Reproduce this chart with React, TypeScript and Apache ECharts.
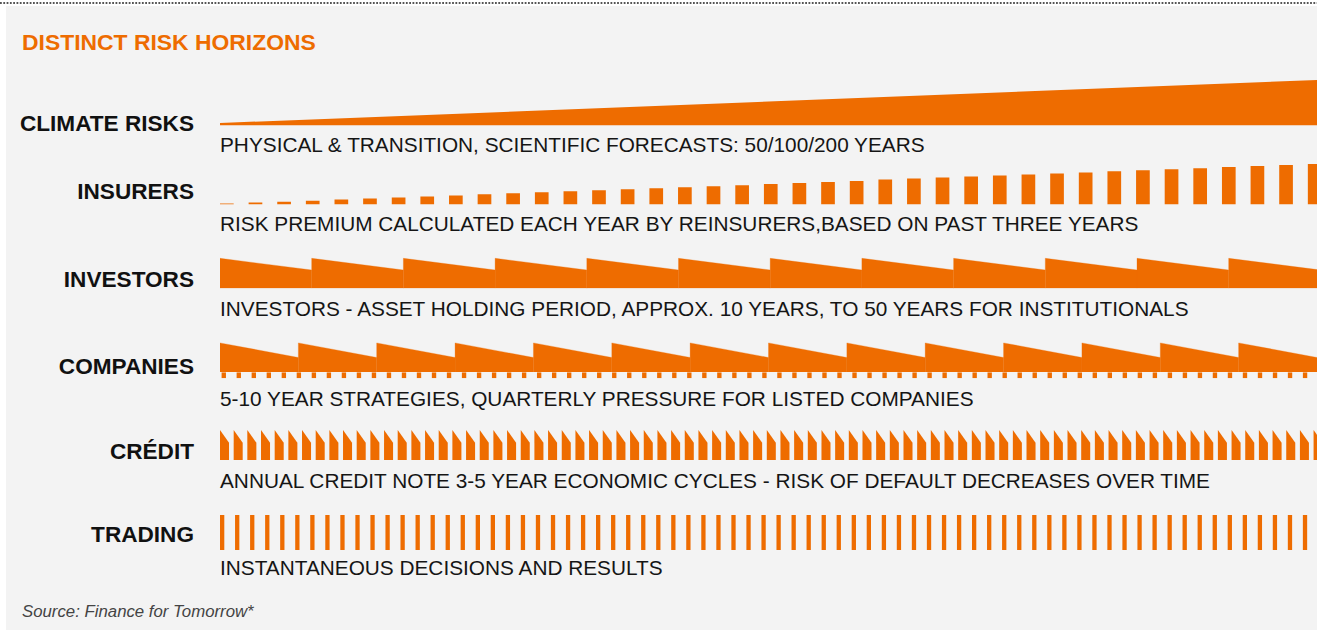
import React, { useEffect, useRef } from "react";
import * as echarts from "echarts";

const ORANGE = "#EE6C00";
const FONT = "'Liberation Sans', Arial, Helvetica, sans-serif";

const titleText = "DISTINCT RISK HORIZONS";
const sourceText = "Source: Finance for Tomorrow*";

const rowLabels = ["CLIMATE RISKS", "INSURERS", "INVESTORS", "COMPANIES", "CRÉDIT", "TRADING"];
const rowDescriptions = [
  "PHYSICAL & TRANSITION, SCIENTIFIC FORECASTS: 50/100/200 YEARS",
  "RISK PREMIUM CALCULATED EACH YEAR BY REINSURERS,BASED ON PAST THREE YEARS",
  "INVESTORS - ASSET HOLDING PERIOD, APPROX. 10 YEARS, TO 50 YEARS FOR INSTITUTIONALS",
  "5-10 YEAR STRATEGIES, QUARTERLY PRESSURE FOR LISTED COMPANIES",
  "ANNUAL CREDIT NOTE 3-5 YEAR ECONOMIC CYCLES - RISK OF DEFAULT DECREASES OVER TIME",
  "INSTANTANEOUS DECISIONS AND RESULTS",
];

// Climate risks: one continuous wedge (height at start, height at end of horizon)
const climateWedge = [2.5, 45.5];

// Insurers: yearly premium blocks
const insurersPremium = [
  1, 2, 2.8, 3.8, 5, 6, 7, 8, 9, 10.3, 11.3, 12.3, 13.3, 14.3, 15.2, 16.2, 17.3, 18.3, 19.3, 20.5,
  21.5, 22.5, 23.5, 25, 26, 27, 28, 29, 30, 31, 32, 33.3, 34.3, 35.3, 36.3, 37.6, 38.6, 39.6, 40.6,
];

// Investors: holding periods (peak at start, trough at end)
const investorsPeaks = [30, 30, 30, 30, 30, 30, 30, 30, 30, 30, 30, 30];
const investorsTroughs = [18.3, 18.3, 18.3, 18.3, 18.3, 18.3, 18.3, 18.3, 18.3, 18.3, 18.3, 18.3];

// Companies: strategies + quarterly pressure ticks
const companiesPeaks = [29, 29, 29, 29, 29, 29, 29, 29, 29, 29, 29, 29, 29, 29];
const companiesTroughs = [14.4, 14.4, 14.4, 14.4, 14.4, 14.4, 14.4, 14.4, 14.4, 14.4, 14.4, 14.4, 14.4, 14.4];
const companiesQuarters = [
  6, 6, 6, 6, 6, 6, 6, 6, 6, 6, 6, 6, 6, 6, 6, 6, 6, 6, 6, 6, 6, 6, 6, 6, 6, 6, 6, 6, 6, 6, 6, 6, 6, 6, 6, 6, 6,
  6, 6, 6, 6, 6, 6, 6, 6, 6, 6, 6, 6, 6, 6, 6, 6, 6, 6, 6, 6, 6, 6, 6, 6, 6, 6, 6, 6, 6, 6, 6, 6, 6, 6, 6, 6,
];

// Credit: annual notes (peak, shoulder)
const creditPeaks = [
  30, 30, 30, 30, 30, 30, 30, 30, 30, 30, 30, 30, 30, 30, 30, 30, 30, 30, 30, 30, 30, 30, 30, 30, 30, 30, 30,
  30, 30, 30, 30, 30, 30, 30, 30, 30, 30, 30, 30, 30, 30, 30, 30, 30, 30, 30, 30, 30, 30, 30, 30, 30, 30, 30,
  30, 30, 30, 30, 30, 30, 30, 30, 30, 30, 30, 30, 30, 30, 30, 30, 30, 30, 30, 30, 30, 30, 30, 30, 30, 30, 30,
];
const creditShoulders = [
  17.3, 17.3, 17.3, 17.3, 17.3, 17.3, 17.3, 17.3, 17.3, 17.3, 17.3, 17.3, 17.3, 17.3, 17.3, 17.3, 17.3, 17.3,
  17.3, 17.3, 17.3, 17.3, 17.3, 17.3, 17.3, 17.3, 17.3, 17.3, 17.3, 17.3, 17.3, 17.3, 17.3, 17.3, 17.3, 17.3,
  17.3, 17.3, 17.3, 17.3, 17.3, 17.3, 17.3, 17.3, 17.3, 17.3, 17.3, 17.3, 17.3, 17.3, 17.3, 17.3, 17.3, 17.3,
  17.3, 17.3, 17.3, 17.3, 17.3, 17.3, 17.3, 17.3, 17.3, 17.3, 17.3, 17.3, 17.3, 17.3, 17.3, 17.3, 17.3, 17.3,
  17.3, 17.3, 17.3, 17.3, 17.3, 17.3, 17.3, 17.3, 17.3,
];

// Trading: instantaneous ticks
const tradingTicks = [
  35, 35, 35, 35, 35, 35, 35, 35, 35, 35, 35, 35, 35, 35, 35, 35, 35, 35, 35, 35, 35, 35, 35, 35, 35, 35, 35,
  35, 35, 35, 35, 35, 35, 35, 35, 35, 35, 35, 35, 35, 35, 35, 35, 35, 35, 35, 35, 35, 35, 35, 35, 35, 35, 35,
  35, 35, 35, 35, 35, 35, 35, 35, 35, 35, 35, 35, 35, 35, 35, 35, 35, 35, 35,
];

// Layout (px)
const PLOT_LEFT = 220;
const PLOT_WIDTH = 1097;
const labelY = [123.7, 191, 279, 366, 451, 534];
const descY = [144.2, 223.8, 308.2, 398, 480.8, 567];

function sawtooth(params: any, api: any) {
  const i = api.value(0);
  const a = api.coord([i, 0]);
  const b = api.coord([i, api.value(1)]);
  const c = api.coord([i + 1, api.value(2)]);
  const d = api.coord([i + 1, 0]);
  return {
    type: "polygon",
    shape: { points: [a, b, c, d] },
    style: { fill: ORANGE, stroke: ORANGE, lineWidth: 0.3 },
  };
}

function blocks(widthUnits: number) {
  return (params: any, api: any) => {
    const i = api.value(0);
    const p0 = api.coord([i, 0]);
    const p1 = api.coord([i + widthUnits, api.value(1)]);
    return {
      type: "rect",
      shape: { x: p0[0], y: p1[1], width: p1[0] - p0[0], height: p0[1] - p1[1] },
      style: { fill: ORANGE },
    };
  };
}

function notch(widthUnits: number) {
  return (params: any, api: any) => {
    const i = api.value(0);
    const a = api.coord([i, 0]);
    const b = api.coord([i, api.value(1)]);
    const c = api.coord([i + widthUnits, api.value(2)]);
    const d = api.coord([i + widthUnits, 0]);
    return { type: "polygon", shape: { points: [a, b, c, d] }, style: { fill: ORANGE } };
  };
}

export default function App() {
  const ref = useRef<HTMLDivElement>(null);

  useEffect(() => {
    if (!ref.current) return;
    const chart = echarts.init(ref.current, undefined, { renderer: "svg" });

    const rows = [
      { base: 125.5, yMax: 50, xMax: 1, left: PLOT_LEFT }, // climate
      { base: 204.5, yMax: 45, xMax: 38.32, left: PLOT_LEFT }, // insurers
      { base: 288.3, yMax: 32, xMax: 11.963, left: PLOT_LEFT }, // investors
      { base: 371.9, yMax: 32, xMax: 14.0, left: PLOT_LEFT }, // companies
      { base: 378.3, yMax: 6, xMax: 72.94, left: PLOT_LEFT + 1.6 }, // companies quarters
      { base: 460, yMax: 32, xMax: 80.25, left: PLOT_LEFT }, // credit
      { base: 550, yMax: 36, xMax: 72.94, left: PLOT_LEFT }, // trading
    ];

    const grid = rows.map((r) => ({
      left: r.left,
      width: PLOT_WIDTH,
      top: r.base - r.yMax,
      height: r.yMax,
      containLabel: false,
    }));
    const xAxis = rows.map((r, k) => ({
      type: "value",
      gridIndex: k,
      min: 0,
      max: r.xMax,
      show: false,
    }));
    const yAxis = rows.map((r, k) => ({
      type: "value",
      gridIndex: k,
      min: 0,
      max: r.yMax,
      show: false,
    }));

    const series: any[] = [
      {
        type: "line",
        xAxisIndex: 0,
        yAxisIndex: 0,
        data: [
          [0, climateWedge[0]],
          [1, climateWedge[1]],
        ],
        symbol: "none",
        lineStyle: { width: 0 },
        areaStyle: { color: ORANGE, opacity: 1 },
        silent: true,
      },
      {
        type: "custom",
        xAxisIndex: 1,
        yAxisIndex: 1,
        clip: true,
        renderItem: blocks(0.478),
        data: insurersPremium.map((v, i) => [i, v]),
      },
      {
        type: "custom",
        xAxisIndex: 2,
        yAxisIndex: 2,
        clip: true,
        renderItem: sawtooth,
        data: investorsPeaks.map((v, i) => [i, v, investorsTroughs[i]]),
      },
      {
        type: "custom",
        xAxisIndex: 3,
        yAxisIndex: 3,
        clip: true,
        renderItem: sawtooth,
        data: companiesPeaks.map((v, i) => [i, v, companiesTroughs[i]]),
      },
      {
        type: "custom",
        xAxisIndex: 4,
        yAxisIndex: 4,
        clip: true,
        renderItem: blocks(0.29),
        data: companiesQuarters.map((v, i) => [i, v]),
      },
      {
        type: "custom",
        xAxisIndex: 5,
        yAxisIndex: 5,
        clip: true,
        renderItem: notch(0.66),
        data: creditPeaks.map((v, i) => [i, v, creditShoulders[i]]),
      },
      {
        type: "custom",
        xAxisIndex: 6,
        yAxisIndex: 6,
        clip: true,
        renderItem: blocks(0.286),
        data: tradingTicks.map((v, i) => [i, v]),
      },
    ];

    const graphic: any[] = [
      {
        type: "rect",
        z: -10,
        shape: { x: 6, y: 6, width: 1317, height: 630 },
        style: { fill: "#F3F3F3" },
        silent: true,
      },
      {
        type: "line",
        shape: { x1: 0, y1: 3, x2: 1317, y2: 3 },
        style: { stroke: "#555555", lineWidth: 1.8, lineDash: [1.8, 1.5] },
        silent: true,
      },
      {
        type: "text",
        x: 22,
        y: 42,
        style: {
          text: titleText,
          fill: ORANGE,
          font: `bold 22.9px ${FONT}`,
          align: "left",
          verticalAlign: "middle",
        },
      },
      {
        type: "text",
        x: 22,
        y: 611,
        style: {
          text: sourceText,
          fill: "#444444",
          font: `italic 16.8px ${FONT}`,
          align: "left",
          verticalAlign: "middle",
        },
      },
      ...rowLabels.map((t, k) => ({
        type: "text",
        x: 194,
        y: labelY[k],
        style: {
          text: t,
          fill: "#111111",
          font: `bold 22.6px ${FONT}`,
          align: "right",
          verticalAlign: "middle",
        },
      })),
      ...rowDescriptions.map((t, k) => ({
        type: "text",
        x: 220,
        y: descY[k],
        style: {
          text: t,
          fill: "#151515",
          font: `20.8px ${FONT}`,
          align: "left",
          verticalAlign: "middle",
        },
      })),
    ];

    chart.setOption({
      animation: false,
      backgroundColor: "#FFFFFF",
      grid,
      xAxis,
      yAxis,
      series,
      graphic,
    });

    return () => chart.dispose();
  }, []);

  return (
    <div
      ref={ref}
      style={{ position: "fixed", left: 0, top: 0, width: 1317, height: 630 }}
    />
  );
}
